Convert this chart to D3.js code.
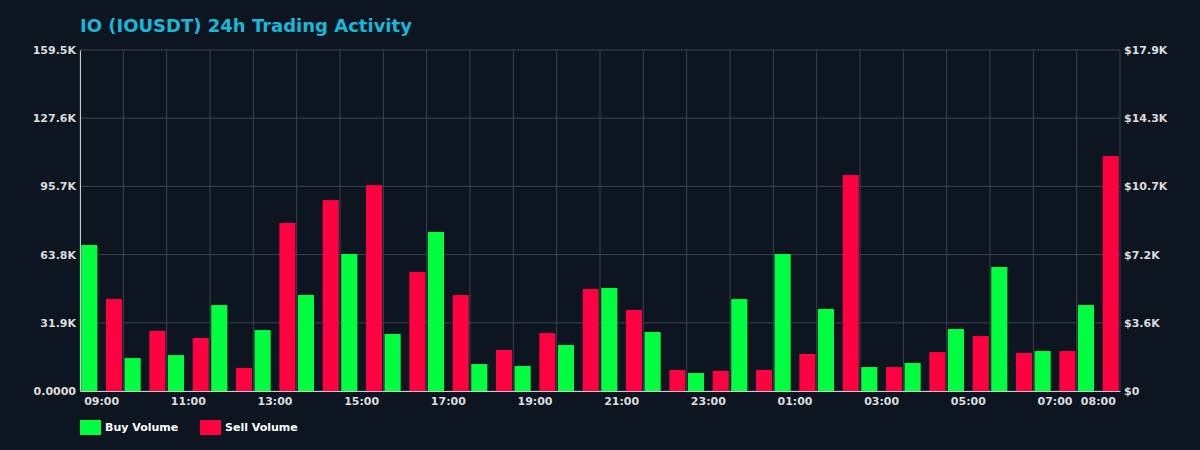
<!DOCTYPE html>
<html><head><meta charset="utf-8">
<script src="https://cdn.jsdelivr.net/npm/d3@7"></script>
<style>body{margin:0;background:#0c1520;}text{font-family:"DejaVu Sans",sans-serif;}</style>
</head><body><svg id="c" width="1200" height="450"></svg>
<script>
const hours=["09:00","10:00","11:00","12:00","13:00","14:00","15:00","16:00","17:00","18:00","19:00","20:00","21:00","22:00","23:00","00:00","01:00","02:00","03:00","04:00","05:00","06:00","07:00","08:00"];
const buyVolume=[68.3,15.4,16.8,40.2,28.5,44.9,64.1,26.7,74.4,12.6,11.7,21.5,48.2,27.6,8.4,43.0,64.1,38.4,11.2,13.1,29.0,58.0,18.7,40.2].map(v=>v*1000);
const sellVolume=[43.0,28.1,24.8,10.8,78.6,89.3,96.3,55.7,44.9,19.2,27.1,47.7,37.9,9.8,9.4,9.8,17.3,101.0,11.2,18.2,25.7,17.8,18.7,109.9].map(v=>v*1000);
const leftTicks=[0,31900,63800,95700,127600,159500];
const leftLabels=["0.0000","31.9K","63.8K","95.7K","127.6K","159.5K"];
const rightLabels=["$0","$3.6K","$7.2K","$10.7K","$14.3K","$17.9K"];
const shownHours=["09:00","11:00","13:00","15:00","17:00","19:00","21:00","23:00","01:00","03:00","05:00","07:00","08:00"];

const svg=d3.select("#c");
const L=80,R=1120,T=50,B=391;
const x=d3.scaleBand().domain(hours).range([L,R]);
const xi=d3.scaleBand().domain(["b","s"]).range([0,x.bandwidth()]).paddingInner(0.35).paddingOuter(0.05);
const y=d3.scaleLinear().domain([0,159500]).range([B,T]);
const grid="#3a4450";
svg.append("g").selectAll("line").data(leftTicks).join("line")
 .attr("x1",L).attr("x2",R).attr("y1",d=>y(d)).attr("y2",d=>y(d)).attr("stroke",grid);
svg.append("g").selectAll("line").data(hours).join("line")
 .attr("x1",d=>x(d)).attr("x2",d=>x(d)).attr("y1",T).attr("y2",B).attr("stroke",grid);
svg.append("line").attr("x1",R).attr("x2",R).attr("y1",T).attr("y2",B).attr("stroke",grid);
const g=svg.append("g").selectAll("g").data(hours).join("g").attr("transform",d=>`translate(${x(d)},0)`);
g.append("rect").attr("x",xi("b")).attr("width",xi.bandwidth()).attr("y",(d,i)=>y(buyVolume[i])).attr("height",(d,i)=>B-y(buyVolume[i])).attr("fill","#00ff41");
g.append("rect").attr("x",xi("s")).attr("width",xi.bandwidth()).attr("y",(d,i)=>y(sellVolume[i])).attr("height",(d,i)=>B-y(sellVolume[i])).attr("fill","#ff0040");
const ax=d3.axisLeft(y).tickValues(leftTicks).tickFormat((d,i)=>leftLabels[i]).tickSize(0).tickPadding(4);
const ga=svg.append("g").attr("transform",`translate(${L},0)`).call(ax);
const ar=d3.axisRight(y).tickValues(leftTicks).tickFormat((d,i)=>rightLabels[i]).tickSize(0).tickPadding(4);
const gr=svg.append("g").attr("transform",`translate(${R},0)`).call(ar);
const axb=d3.axisBottom(x).tickValues(shownHours).tickSize(0).tickPadding(6);
const gb=svg.append("g").attr("transform",`translate(0,${B})`).call(axb);
[ga,gr,gb].forEach(a=>{a.select(".domain").attr("stroke","#ccc");a.selectAll("text").attr("fill","#ddd").attr("font-size",11).attr("font-weight","bold").style("font-family","DejaVu Sans");});
gr.select(".domain").remove();
svg.append("text").attr("x",80).attr("y",32).text("IO (IOUSDT) 24h Trading Activity").attr("fill","#1ab8d8").attr("font-size",18).attr("font-weight","bold");
const leg=[["Buy Volume","#00ff41",80],["Sell Volume","#ff0040",200]];
leg.forEach(([t,c,lx])=>{svg.append("rect").attr("x",lx).attr("y",420).attr("width",21).attr("height",15).attr("fill",c);
 svg.append("text").attr("x",lx+25).attr("y",431).text(t).attr("fill","#fff").attr("font-size",11).attr("font-weight","bold");});
</script></body></html>
